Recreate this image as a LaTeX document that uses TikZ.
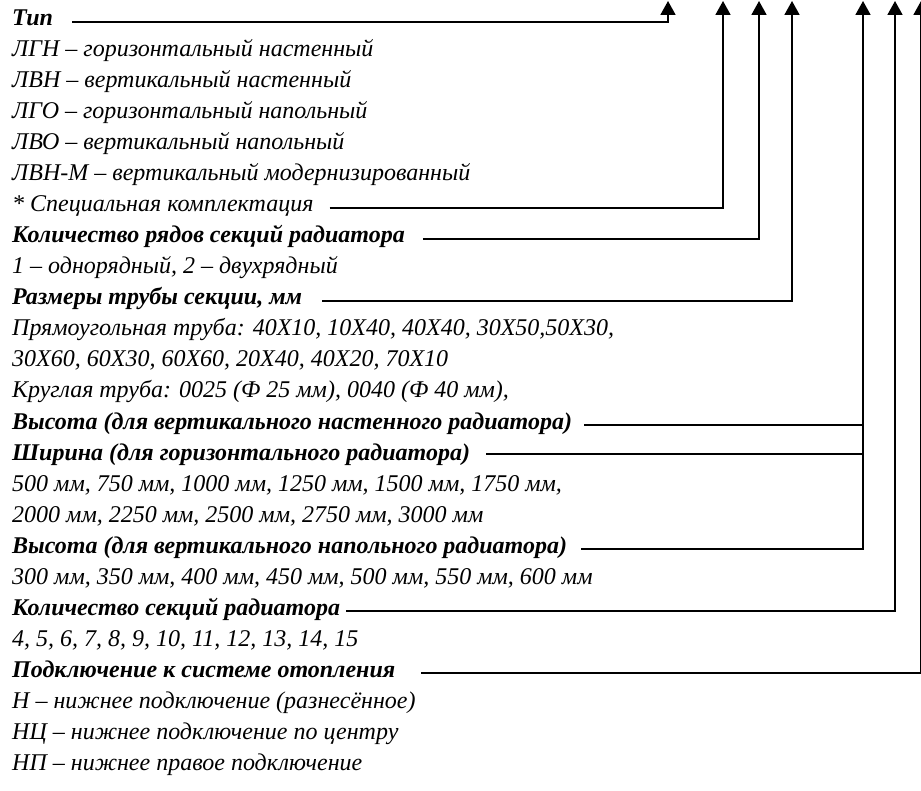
\documentclass[tikz,border=0pt]{standalone}
\usepackage{fontspec}
\setmainfont{Liberation Serif}
\usetikzlibrary{arrows.meta}

\tikzset{
  txt/.style={anchor=base west, inner sep=0pt, font=\itshape\fontsize{24}{24}\selectfont},
  head/.style={txt, font=\bfseries\itshape\fontsize{24}{24}\selectfont},
  lead/.style={line width=1.8pt},
  arr/.style={lead, -{Triangle[width=15pt,length=14pt]}}
}

\begin{document}
\begin{tikzpicture}[x=1pt, y=-1pt]
\useasboundingbox (0,0) rectangle (921,791);
% arrow tips along the top edge
\coordinate (tipA) at (668,1);
\coordinate (tipB) at (723,1);
\coordinate (tipC) at (759,1);
\coordinate (tipD) at (792,1);
\coordinate (tipE) at (863,1);
\coordinate (tipF) at (895,1);
\coordinate (tipG) at (921,1);
% legend lines
\node [head] (type) at (12,26) {Тип};
\node [txt] (lgn) at (12,57) {ЛГН – горизонтальный настенный};
\node [txt] (lvn) at (12,88) {ЛВН – вертикальный настенный};
\node [txt] (lgo) at (12,119) {ЛГО – горизонтальный напольный};
\node [txt] (lvo) at (12,150) {ЛВО – вертикальный напольный};
\node [txt] (lvnm) at (12,181) {ЛВН-М – вертикальный модернизированный};
\node [txt] (special) at (12,212) {* Специальная комплектация};
\node [head] (rows) at (12,243) {Количество рядов секций радиатора};
\node [txt] (rowsval) at (12,274) {1 – однорядный, 2 – двухрядный};
\node [head] (tube) at (12,305) {Размеры трубы секции, мм};
\node [txt] (tuberect) at (12,336) {Прямоугольная труба: 40X10, 10X40, 40X40, 30X50,50X30,};
\node [txt] (tuberect2) at (12,367) {30X60, 60X30, 60X60, 20X40, 40X20, 70X10};
\node [txt] (tuberound) at (12,398) {Круглая труба: 0025 (Ф 25 мм), 0040 (Ф 40 мм),};
\node [head] (hwall) at (12,429) {Высота (для вертикального настенного радиатора)};
\node [head] (width) at (12,460) {Ширина (для горизонтального радиатора)};
\node [txt] (widthval) at (12,491) {500 мм, 750 мм, 1000 мм, 1250 мм, 1500 мм, 1750 мм,};
\node [txt] (widthval2) at (12,522) {2000 мм, 2250 мм, 2500 мм, 2750 мм, 3000 мм};
\node [head] (hfloor) at (12,553) {Высота (для вертикального напольного радиатора)};
\node [txt] (hfloorval) at (12,584) {300 мм, 350 мм, 400 мм, 450 мм, 500 мм, 550 мм, 600 мм};
\node [head] (sections) at (12,615) {Количество секций радиатора};
\node [txt] (sectionsval) at (12,646) {4, 5, 6, 7, 8, 9, 10, 11, 12, 13, 14, 15};
\node [head] (connection) at (12,677) {Подключение к системе отопления};
\node [txt] (conn1) at (12,708) {Н – нижнее подключение (разнесённое)};
\node [txt] (conn2) at (12,739) {НЦ – нижнее подключение по центру};
\node [txt] (conn3) at (12,770) {НП – нижнее правое подключение};
% leaders
\draw [arr] ([xshift=19pt,yshift=4pt]type.base east) -| (tipA);
\draw [arr] ([xshift=16pt,yshift=4pt]special.base east) -| (tipB);
\draw [arr] ([xshift=18pt,yshift=4pt]rows.base east) -| (tipC);
\draw [arr] ([xshift=20pt,yshift=4pt]tube.base east) -| (tipD);
\coordinate (hwallEnd) at ([xshift=12pt,yshift=4pt]hwall.base east);
\coordinate (widthEnd) at ([xshift=16pt,yshift=6pt]width.base east);
\draw [lead] (hwallEnd) -- (hwallEnd -| tipE);
\draw [lead] (widthEnd) -- (widthEnd -| tipE);
\draw [arr] ([xshift=14pt,yshift=4pt]hfloor.base east) -| (tipE);
\draw [arr] ([xshift=6pt,yshift=4pt]sections.base east) -| (tipF);
\draw [arr] ([xshift=26pt,yshift=4pt]connection.base east) -| (tipG);
\end{tikzpicture}
\end{document}
